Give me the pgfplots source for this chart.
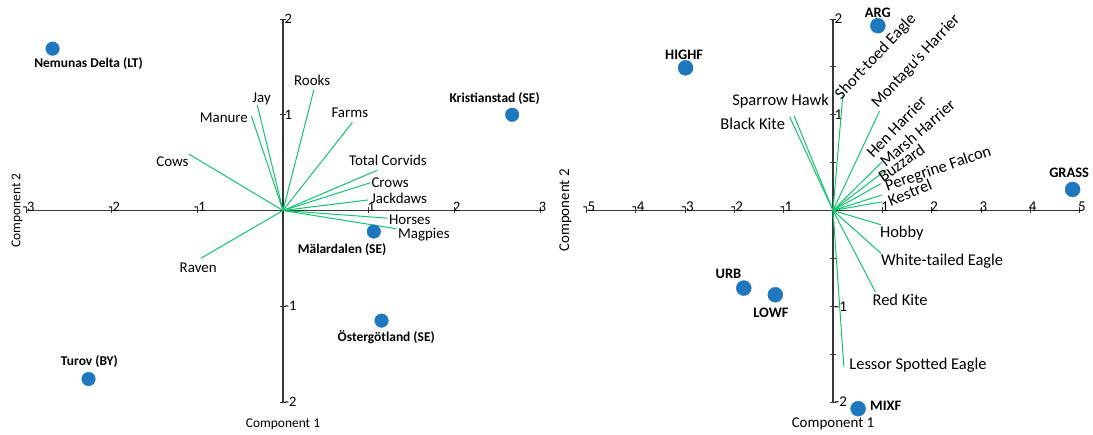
\documentclass[border=0pt]{standalone}
\usepackage{pgfplots}
\pgfplotsset{compat=1.18}
\usepackage{fontspec}
\setmainfont{Carlito}

\definecolor{ptblue}{RGB}{31,120,190}
\definecolor{vecgreen}{RGB}{20,195,110}
\definecolor{axgray}{RGB}{55,55,55}

\pgfplotsset{
  biplot/.style={
    scale only axis, axis lines=middle,
    axis line style={-,axgray,line width=1.1bp},
    enlargelimits=false, clip=false,
    ymin=-2, ymax=2, height=383bp, anchor=south west,
    tick align=center, major tick length=6bp,
    every tick/.style={axgray,line width=0.8bp},
    xticklabel style={anchor=south,inner sep=1.5bp,xshift=2.5bp},
    yticklabel style={anchor=west,inner sep=2bp,xshift=2.5bp},
    /pgf/number format/assume math mode=true,
  },
  vec/.style={vecgreen,line width=1bp,no marks},
  pts/.style={only marks,mark=*,color=ptblue,mark options={draw=ptblue,fill=ptblue}},
}
\tikzset{
  llab/.style={font=\fontsize{15}{17}\selectfont,inner sep=0pt},
  lplab/.style={font=\fontsize{13.5}{15}\selectfont\bfseries,inner sep=0pt},
  rlab/.style={font=\fontsize{16.5}{18}\selectfont,inner sep=0pt},
  rrot/.style={font=\fontsize{16.5}{18}\selectfont,inner sep=0pt,anchor=south west},
  rplab/.style={font=\fontsize{14.5}{16}\selectfont\bfseries,inner sep=0pt},
}

\begin{document}
\begin{tikzpicture}
\useasboundingbox (0,0) rectangle (1093bp,435bp);

% left biplot: corvids
\begin{axis}[biplot, at={(26bp,33bp)}, width=514bp, xmin=-3, xmax=3,
  xtick={-3,-2,-1,1,2,3}, ytick={-2,-1,1,2},
  tick label style={font=\fontsize{14.5}{16}\selectfont}]
\addplot[vec] coordinates {(0,0) (-1.10,0.59)};
\addplot[vec] coordinates {(0,0) (-0.37,0.99)};
\addplot[vec] coordinates {(0,0) (-0.30,1.10)};
\addplot[vec] coordinates {(0,0) (0.36,1.26)};
\addplot[vec] coordinates {(0,0) (0.81,0.92)};
\addplot[vec] coordinates {(0,0) (1.10,0.42)};
\addplot[vec] coordinates {(0,0) (1.02,0.29)};
\addplot[vec] coordinates {(0,0) (0.99,0.11)};
\addplot[vec] coordinates {(0,0) (1.22,-0.08)};
\addplot[vec] coordinates {(0,0) (1.32,-0.19)};
\addplot[vec] coordinates {(0,0) (-0.96,-0.50)};
\addplot[pts,mark size=6.8bp] coordinates {(-2.69,1.69) (2.675,1.0) (1.06,-0.22) (1.15,-1.15) (-2.27,-1.76)};

\node[llab] at (axis cs:-1.29,0.51) {Cows};
\node[llab] at (axis cs:-0.69,0.965) {Manure};
\node[llab] at (axis cs:-0.25,1.17) {Jay};
\node[llab] at (axis cs:0.34,1.36) {Rooks};
\node[llab] at (axis cs:0.78,1.02) {Farms};
\node[llab] at (axis cs:1.225,0.52) {Total Corvids};
\node[llab] at (axis cs:1.25,0.29) {Crows};
\node[llab] at (axis cs:1.355,0.125) {Jackdaws};
\node[llab] at (axis cs:1.48,-0.094) {Horses};
\node[llab] at (axis cs:1.645,-0.25) {Magpies};
\node[llab] at (axis cs:-0.99,-0.60) {Raven};

\node[lplab] at (axis cs:-2.27,1.54) {Nemunas Delta (LT)};
\node[lplab] at (axis cs:2.47,1.17) {Kristianstad (SE)};
\node[lplab] at (axis cs:0.69,-0.41) {Mälardalen (SE)};
\node[lplab] at (axis cs:1.205,-1.32) {Östergötland (SE)};
\node[lplab] at (axis cs:-2.26,-1.58) {Turov (BY)};

\node[font=\fontsize{13.5}{15}\selectfont] at (axis cs:0,-2.23) {Component 1};
\node[font=\fontsize{13.5}{15}\selectfont,rotate=90,yshift=9bp] at (axis cs:-3,0) {Component 2};
\end{axis}

% right biplot: raptors
\begin{axis}[biplot, at={(586.5bp,33bp)}, width=493bp, xmin=-5, xmax=5,
  xtick={-5,-4,-3,-2,-1,1,2,3,4,5},
  ytick={-2,-1.5,-1,-0.5,0.5,1,1.5,2}, yticklabels={-2,,-1,,,1,,2},
  tick label style={font=\fontsize{15}{17}\selectfont}]
\addplot[vec] coordinates {(0,0) (-0.88,0.98)};
\addplot[vec] coordinates {(0,0) (-0.79,0.99)};
\addplot[vec] coordinates {(0,0) (0.20,1.21)};
\addplot[vec] coordinates {(0,0) (0.945,1.04)};
\addplot[vec] coordinates {(0,0) (1.00,0.51)};
\addplot[vec] coordinates {(0,0) (1.09,0.43)};
\addplot[vec] coordinates {(0,0) (0.97,0.28)};
\addplot[vec] coordinates {(0,0) (0.98,0.16)};
\addplot[vec] coordinates {(0,0) (0.99,0.09)};
\addplot[vec] coordinates {(0,0) (0.98,-0.15)};
\addplot[vec] coordinates {(0,0) (0.98,-0.45)};
\addplot[vec] coordinates {(0,0) (0.86,-0.85)};
\addplot[vec] coordinates {(0,0) (0.22,-1.63)};
\addplot[pts,mark size=7.5bp] coordinates {(0.91,1.93) (-2.99,1.49) (4.86,0.22) (-1.81,-0.81) (-1.17,-0.88) (0.51,-2.07)};

\node[rlab,anchor=east] at (axis cs:-0.08,1.14) {Sparrow Hawk};
\node[rlab,anchor=east] at (axis cs:-0.97,0.91) {Black Kite};
\node[rrot,rotate=47] at (axis cs:0.21,1.13) {Short-toed Eagle};
\node[rrot,rotate=47] at (axis cs:0.95,1.04) {Montagu’s Harrier};
\node[rrot,rotate=46] at (axis cs:0.82,0.54) {Hen Harrier};
\node[rrot,rotate=41] at (axis cs:1.075,0.44) {Marsh Harrier};
\node[rrot,rotate=35] at (axis cs:1.02,0.29) {Buzzard};
\node[rrot,rotate=19] at (axis cs:1.12,0.17) {Peregrine Falcon};
\node[rrot,rotate=22] at (axis cs:1.17,0.04) {Kestrel};
\node[rlab,anchor=west] at (axis cs:0.95,-0.24) {Hobby};
\node[rlab,anchor=west] at (axis cs:0.97,-0.53) {White-tailed Eagle};
\node[rlab,anchor=west] at (axis cs:0.80,-0.93) {Red Kite};
\node[rlab,anchor=west] at (axis cs:0.33,-1.62) {Lessor Spotted Eagle};

\node[rplab] at (axis cs:0.91,2.06) {ARG};
\node[rplab] at (axis cs:-3.02,1.63) {HIGHF};
\node[rplab] at (axis cs:4.79,0.39) {GRASS};
\node[rplab] at (axis cs:-2.12,-0.66) {URB};
\node[rplab] at (axis cs:-1.26,-1.07) {LOWF};
\node[rplab,anchor=west] at (axis cs:0.75,-2.04) {MIXF};

\node[font=\fontsize{15}{17}\selectfont] at (axis cs:0,-2.23) {Component 1};
\node[font=\fontsize{15}{17}\selectfont,rotate=90,yshift=21bp] at (axis cs:-5,0) {Component 2};
\end{axis}
\end{tikzpicture}
\end{document}
